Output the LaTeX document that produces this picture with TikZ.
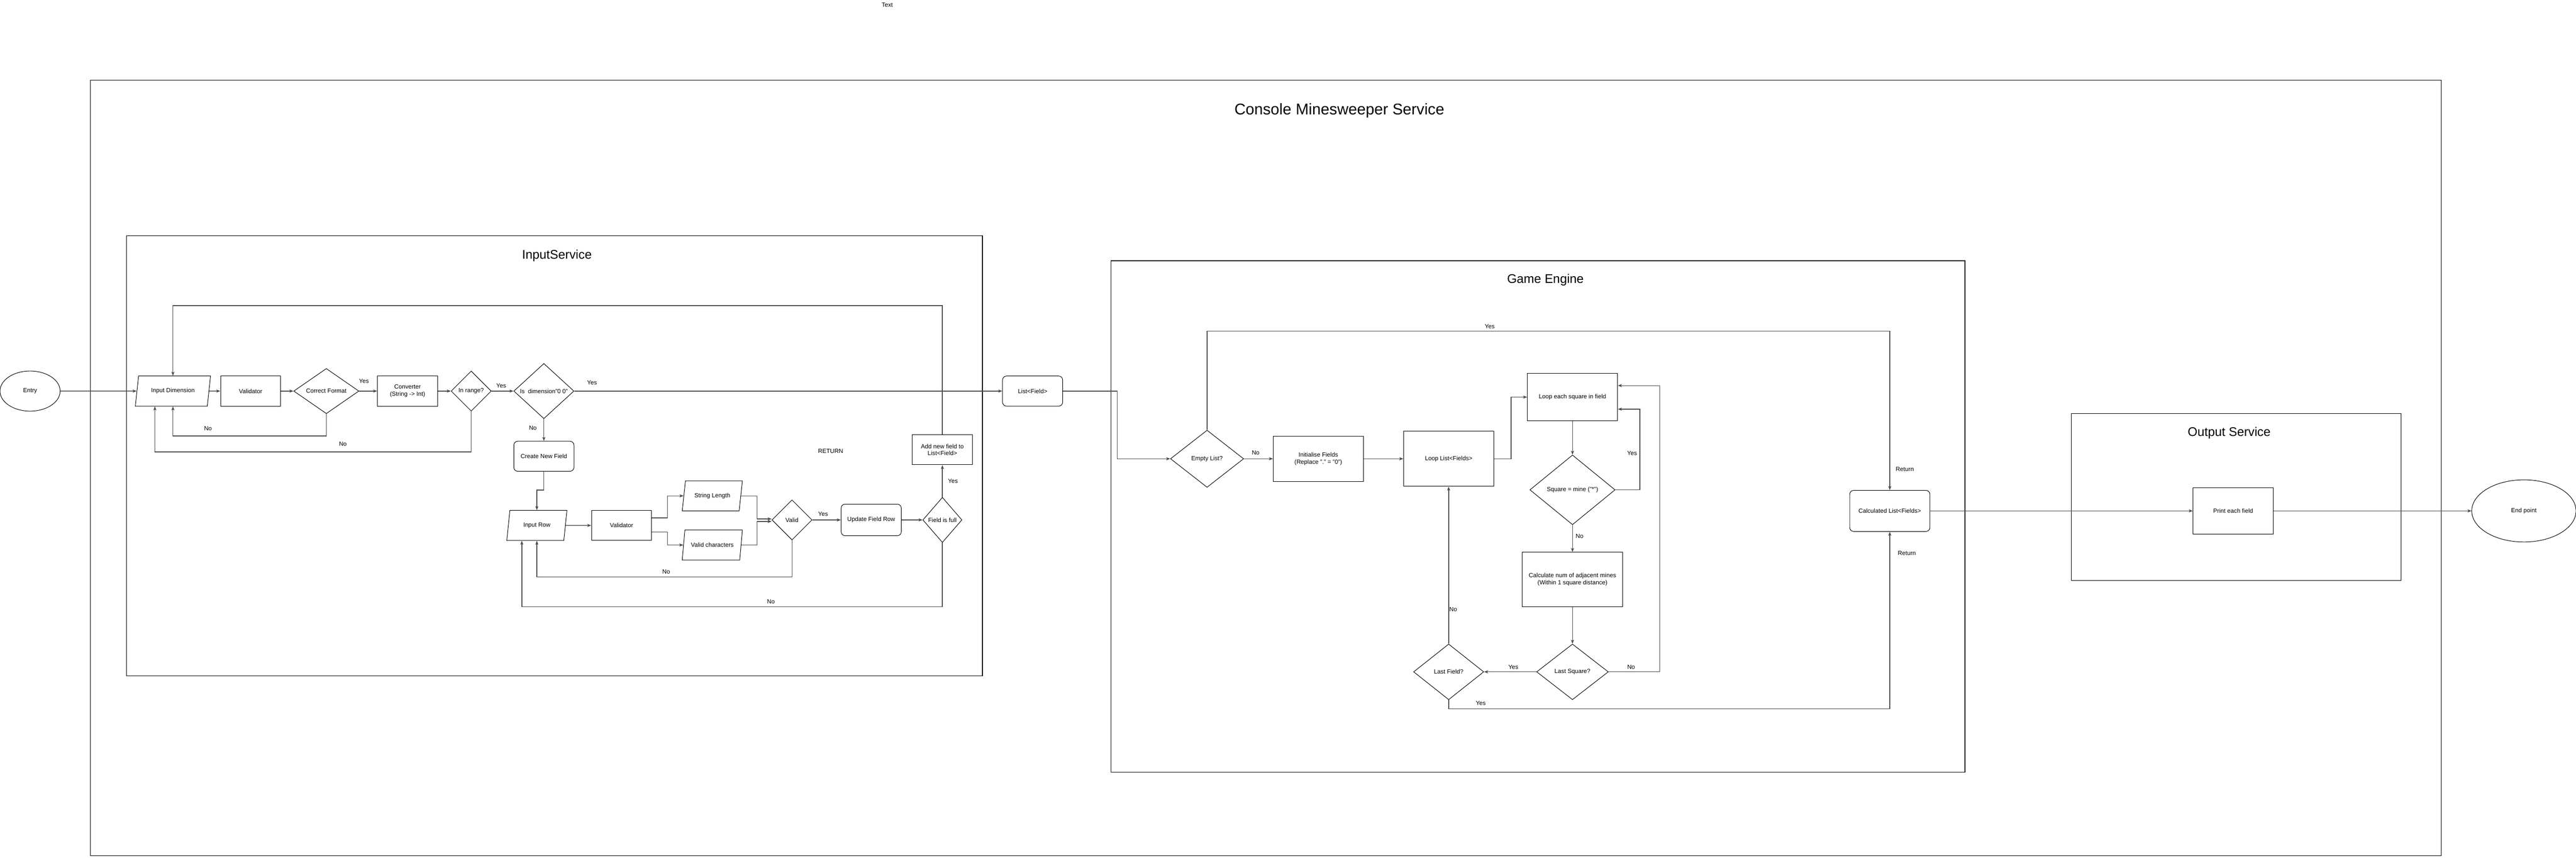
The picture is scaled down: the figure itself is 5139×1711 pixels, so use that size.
\documentclass[tikz,border=0pt]{standalone}
\usepackage{fontspec}
\setmainfont{Liberation Sans}
\usetikzlibrary{shapes.geometric,arrows.meta}

\begin{document}
\begin{tikzpicture}[x=1pt, y=-1pt,
  every node/.style={font=\fontsize{12}{14}\selectfont, align=center},
  proc/.style={draw, line width=1pt, minimum width=120, minimum height=60, inner sep=2pt},
  roundproc/.style={proc, rounded corners=8},
  decision/.style={diamond, draw, line width=1pt, inner sep=0pt, aspect=1.2},
  io/.style={trapezium, trapezium left angle=64, trapezium right angle=116, trapezium stretches body, draw, line width=1pt, minimum width=120, minimum height=60, inner sep=1pt},
  terminal/.style={ellipse, draw, line width=1pt, inner sep=0pt},
  container/.style={draw, line width=1.2pt},
  title/.style={font=\fontsize{25}{30}\selectfont},
  lbl/.style={inner sep=1pt},
  flow/.style={draw=black!70, line width=1.4pt, -{Stealth[length=8pt,width=6pt,inset=2pt]}}]

  \fill[white] (0,0) rectangle (5139,1711);
  \useasboundingbox (0,0) rectangle (5139,1711);

  \node (txt) at (1770,10) {Text};

  \draw[container] (180,160) rectangle (4870,1707);
  \draw[container] (252,470) rectangle (1960,1348);
  \draw[container] (2216,520) rectangle (3920,1540);
  \draw[container] (4132,825) rectangle (4790,1158);

  \node[title, font=\fontsize{31}{37}\selectfont] (tMain) at (2672,221) {Console Minesweeper Service};
  \node[title] (tInput) at (1111,510) {InputService};
  \node[title] (tGame) at (3083,558) {Game Engine};
  \node[title] (tOutput) at (4447,864) {Output Service};

  \node[terminal, minimum width=120, minimum height=80] (entry) at (60,780) {Entry};
  \node[io, minimum width=150] (inDim) at (345,780) {Input Dimension};
  \node[proc] (valDim) at (500,780) {Validator};
  \node[decision, minimum width=130, minimum height=90] (fmtOk) at (651,780) {Correct Format};
  \node[proc] (conv) at (813,780) {Converter\\(String -> Int)};
  \node[decision, minimum width=80, minimum height=80] (rangeOk) at (940,780) {In range?};
  \node[decision, minimum width=120, minimum height=110] (zeroDim) at (1085,780) {Is\ \ dimension"0 0"};
  \node[roundproc] (newField) at (1085,910) {Create New Field};
  \node[io] (inRow) at (1071,1048) {Input Row};
  \node[proc] (valRow) at (1240,1048) {Validator};
  \node[io] (strLen) at (1421,989) {String Length};
  \node[io] (validChr) at (1421,1087) {Valid characters};
  \node[decision, minimum width=80, minimum height=80] (validOk) at (1580,1037) {Valid};
  \node[roundproc, minimum height=63] (updRow) at (1738,1037) {Update Field Row};
  \node[decision, minimum width=78, minimum height=90] (fullOk) at (1880,1037) {Field is full};
  \node[proc] (addField) at (1880,897) {Add new field to\\List<Field>};
  \node[lbl] (ret) at (1657,900) {RETURN};
  \node[roundproc] (fieldList) at (2060,780) {List<Field>};

  \node[decision, minimum width=146, minimum height=114] (emptyOk) at (2408,915) {Empty List?};
  \node[proc, minimum width=180, minimum height=90] (initF) at (2630,915) {Initialise Fields\\(Replace "." = "0")};
  \node[proc, minimum width=180, minimum height=110] (loopF) at (2890,915) {Loop List<Fields>};
  \node[proc, minimum width=180, minimum height=95] (loopSq) at (3137,792) {Loop each square in field};
  \node[decision, minimum width=170, minimum height=139] (mineOk) at (3137,977) {Square = mine ("*")};
  \node[proc, minimum width=200, minimum height=109] (calcAdj) at (3137,1156) {Calculate num of adjacent mines\\(Within 1 square distance)};
  \node[decision, minimum width=143, minimum height=111] (lastSq) at (3137,1340) {Last Square?};
  \node[decision, minimum width=140, minimum height=111] (lastF) at (2890,1340) {Last Field?};
  \node[roundproc, minimum width=160, minimum height=82] (calcList) at (3770,1019) {Calculated List<Fields>};

  \node[proc, minimum width=160, minimum height=93] (printF) at (4455,1019) {Print each field};
  \node[terminal, minimum width=208, minimum height=124] (endPt) at (5035,1019) {End point};

  \draw[flow] (entry) -- (inDim);
  \draw[flow] (inDim) -- (valDim);
  \draw[flow] (valDim) -- (fmtOk);
  \draw[flow] (fmtOk) -- (conv);
  \draw[flow] (conv) -- (rangeOk);
  \draw[flow] (rangeOk) -- (zeroDim);
  \draw[flow] (zeroDim) -- (fieldList);
  \draw[flow] (zeroDim) -- (newField);
  \draw[flow] (newField.south) -- ++(0,37) -| (inRow.north);
  \draw[flow] (inRow) -- (valRow);
  \draw[flow] ([yshift=15pt]valRow.east) -- ++(31,0) |- (strLen);
  \draw[flow] ([yshift=-13pt]valRow.east) -- ++(31,0) |- (validChr);
  \draw[flow] (strLen.east) -| ([xshift=-29pt,yshift=2pt]validOk.west) -- ([yshift=2pt]validOk.west);
  \draw[flow] (validChr.east) -| ([xshift=-29pt,yshift=-3pt]validOk.west) -- ([yshift=-3pt]validOk.west);
  \draw[flow] (validOk) -- (updRow);
  \draw[flow] (updRow) -- (fullOk);
  \draw[flow] (fullOk) -- (addField);
  \draw[flow] (addField.north) -- ++(0,-257) -| (inDim.north);
  \draw[flow] (fmtOk.south) -- ++(0,44) -| (inDim.south);
  \draw[flow] (rangeOk.south) -- ++(0,81) -| ([xshift=-36pt]inDim.south);
  \draw[flow] (validOk.south) -- ++(0,73) -| (inRow.south);
  \draw[flow] (fullOk.south) -- ++(0,128) -| ([xshift=-30pt]inRow.south);

  \draw[flow] (fieldList.east) -- ++(108,0) |- (emptyOk);
  \draw[flow] (emptyOk) -- (initF);
  \draw[flow] (initF) -- (loopF);
  \draw[flow] (loopF.east) -- ++(34,0) |- (loopSq);
  \draw[flow] (loopSq) -- (mineOk);
  \draw[flow] (mineOk.east) -- ++(49,0) |- ([yshift=-24pt]loopSq.east);
  \draw[flow] (mineOk) -- (calcAdj);
  \draw[flow] (calcAdj) -- (lastSq);
  \draw[flow] (lastSq) -- (lastF);
  \draw[flow] (lastSq.east) -- ++(102,0) |- ([yshift=23pt]loopSq.east);
  \draw[flow] (lastF) -- (loopF);
  \draw[flow] (lastF.south) -- ++(0,18) -| (calcList.south);
  \draw[flow] (emptyOk.north) -- ++(0,-197) -| (calcList.north);
  \draw[flow] (calcList) -- (printF);
  \draw[flow] (printF) -- (endPt);

  \node[lbl] (yFmt) at (726,760) {Yes};
  \node[lbl] (yRange) at (1000,769) {Yes};
  \node[lbl] (yZero) at (1181,763) {Yes};
  \node[lbl] (nZero) at (1063,854) {No};
  \node[lbl] (nFmt) at (415,855) {No};
  \node[lbl] (nRange) at (684,885) {No};
  \node[lbl] (yValid) at (1642,1025) {Yes};
  \node[lbl] (yFull) at (1901,959) {Yes};
  \node[lbl] (nValid) at (1329,1140) {No};
  \node[lbl] (nFull) at (1538,1200) {No};
  \node[lbl] (nEmpty) at (2505,903) {No};
  \node[lbl] (yEmpty) at (2972,651) {Yes};
  \node[lbl] (yMine) at (3256,904) {Yes};
  \node[lbl] (nMine) at (3151,1069) {No};
  \node[lbl] (yLastSq) at (3019,1331) {Yes};
  \node[lbl] (nLastSq) at (3254,1330) {No};
  \node[lbl] (nLastF) at (2899,1215) {No};
  \node[lbl] (yLastF) at (2954,1402) {Yes};
  \node[lbl] (retTop) at (3800,936) {Return};
  \node[lbl] (retBot) at (3804,1103) {Return};

\end{tikzpicture}
\end{document}
